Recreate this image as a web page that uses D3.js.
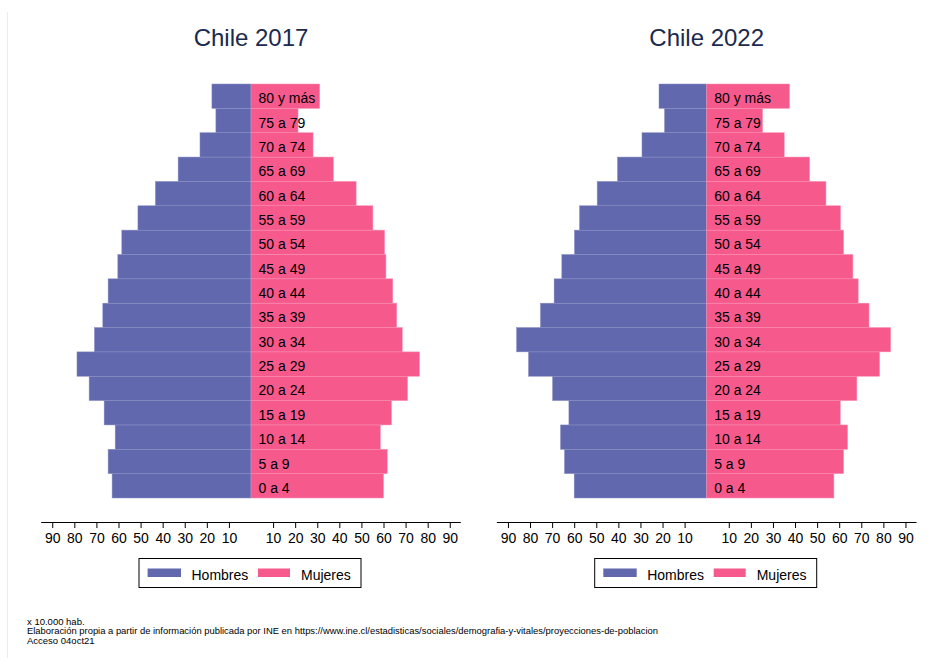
<!DOCTYPE html>
<html>
<head>
<meta charset="utf-8">
<script src="https://cdn.jsdelivr.net/npm/d3@7"></script>
<style>
  body { margin: 0; background: #fff; }
  svg text { font-family: "Liberation Sans", Arial, Helvetica, sans-serif; }
</style>
</head>
<body>
<div id="chart"></div>
<script>
"use strict";
var w = 936;
var h = 658;

// age groups, youngest first
var ages = ["0 a 4", "5 a 9", "10 a 14", "15 a 19", "20 a 24", "25 a 29", "30 a 34", "35 a 39",
            "40 a 44", "45 a 49", "50 a 54", "55 a 59", "60 a 64", "65 a 69", "70 a 74", "75 a 79", "80 y más"];

// x 10.000 hab.
var hombres2017 = [62.9, 64.7, 61.5, 66.5, 73.3, 78.8, 70.9, 67.1, 64.7, 60.3, 58.5, 51.2, 43.3, 33.0, 23.1, 15.9, 17.7];
var mujeres2017 = [60.0, 61.7, 58.6, 63.6, 70.9, 76.3, 68.5, 66.0, 64.2, 61.1, 60.5, 55.2, 47.6, 37.3, 28.1, 21.3, 31.1];
var hombres2022 = [60.0, 64.4, 66.2, 62.4, 69.8, 80.7, 86.1, 75.3, 69.1, 65.6, 59.9, 57.6, 49.6, 40.4, 29.3, 19.1, 21.6];
var mujeres2022 = [57.6, 62.0, 63.8, 60.5, 68.0, 78.3, 83.3, 73.5, 68.6, 66.2, 62.0, 60.6, 54.0, 46.6, 35.1, 25.3, 37.5];

var tickValues = [-90, -80, -70, -60, -50, -40, -30, -20, -10, 10, 20, 30, 40, 50, 60, 70, 80, 90];
var seriesNames = ["Hombres", "Mujeres"];
var notes = ["x 10.000 hab.",
             "Elaboración propia a partir de información publicada por INE en https://www.ine.cl/estadisticas/sociales/demografia-y-vitales/proyecciones-de-poblacion",
             "Acceso 04oct21"];

var blue = "#6168ae";
var pink = "#f65a8d";

var svg = d3.select("#chart").append("svg")
    .attr("width", w)
    .attr("height", h);

// faint frame line on the left
svg.append("line")
    .attr("x1", 7.5).attr("x2", 7.5)
    .attr("y1", 12).attr("y2", h)
    .attr("stroke", "#e4efef")
    .attr("stroke-width", 1);

function pyramid(center, title, hombres, mujeres) {
    var half = 209.8;
    var x = d3.scaleLinear()
        .domain([-95, 95])
        .range([center - half, center + half]);
    var y = d3.scaleBand()
        .domain(ages.slice().reverse())
        .range([84, 498])
        .padding(0);

    var g = svg.append("g");

    g.append("text")
        .attr("x", center)
        .attr("y", 45.5)
        .attr("text-anchor", "middle")
        .style("font-size", "24px")
        .attr("fill", "#1b2a4e")
        .text(title);

    // men to the left
    g.selectAll(".h")
        .data(ages)
        .enter()
        .append("rect")
        .attr("x", function(d, i){ return x(-hombres[i]); })
        .attr("y", function(d){ return y(d); })
        .attr("width", function(d, i){ return x(0) - x(-hombres[i]); })
        .attr("height", y.bandwidth())
        .attr("fill", blue)
        .attr("stroke", "#8a8fc4")
        .attr("stroke-width", 0.5);

    // women to the right
    g.selectAll(".m")
        .data(ages)
        .enter()
        .append("rect")
        .attr("x", x(0))
        .attr("y", function(d){ return y(d); })
        .attr("width", function(d, i){ return x(mujeres[i]) - x(0); })
        .attr("height", y.bandwidth())
        .attr("fill", pink)
        .attr("stroke", "#f98db0")
        .attr("stroke-width", 0.5);

    g.selectAll(".lbl")
        .data(ages)
        .enter()
        .append("text")
        .attr("x", x(0) + 7.5)
        .attr("y", function(d){ return y(d) + y.bandwidth() / 2 + 2; })
        .attr("dy", "0.36em")
        .style("font-size", "14px")
        .attr("fill", "#000")
        .text(function(d){ return d; });

    var axis = d3.axisBottom(x)
        .tickValues(tickValues)
        .tickSize(6)
        .tickPadding(5)
        .tickFormat(function(d){ return Math.abs(d); });

    var ax = g.append("g")
        .attr("transform", "translate(0,522)")
        .call(axis);
    ax.select(".domain")
        .attr("d", "M" + x.range()[0] + ",0.5H" + x.range()[1])
        .attr("stroke", "#000");
    ax.selectAll(".tick line").attr("stroke", "#000");
    ax.selectAll(".tick text")
        .style("font-size", "14px")
        .style("font-family", "'Liberation Sans', Arial, sans-serif")
        .attr("fill", "#000");

    // legend
    var lx = center - 112;
    var leg = g.append("g").attr("transform", "translate(" + lx + ",558.5)");
    leg.append("rect")
        .attr("width", 222).attr("height", 29)
        .attr("fill", "#fff")
        .attr("stroke", "#000")
        .attr("stroke-width", 1);
    var items = [{name: seriesNames[0], color: blue, sx: 8.6, sw: 33.4, tx: 52.5},
                 {name: seriesNames[1], color: pink, sx: 119, sw: 32, tx: 162}];
    leg.selectAll(".sw")
        .data(items)
        .enter()
        .append("rect")
        .attr("x", function(d){ return d.sx; })
        .attr("y", 10)
        .attr("width", function(d){ return d.sw; })
        .attr("height", 8.5)
        .attr("fill", function(d){ return d.color; });
    leg.selectAll(".lt")
        .data(items)
        .enter()
        .append("text")
        .attr("x", function(d){ return d.tx; })
        .attr("y", 16.5)
        .attr("dy", "0.36em")
        .style("font-size", "14px")
        .text(function(d){ return d.name; });
}

pyramid(251, "Chile 2017", hombres2017, mujeres2017);
pyramid(706.7, "Chile 2022", hombres2022, mujeres2022);

svg.selectAll(".note")
    .data(notes)
    .enter()
    .append("text")
    .attr("x", 27)
    .attr("y", function(d, i){ return 624.5 + i * 9.6; })
    .style("font-size", "9.5px")
    .attr("fill", "#000")
    .attr("textLength", function(d, i){ return i == 1 ? 631 : null; })
    .attr("lengthAdjust", "spacingAndGlyphs")
    .text(function(d){ return d; });
</script>
</body>
</html>
